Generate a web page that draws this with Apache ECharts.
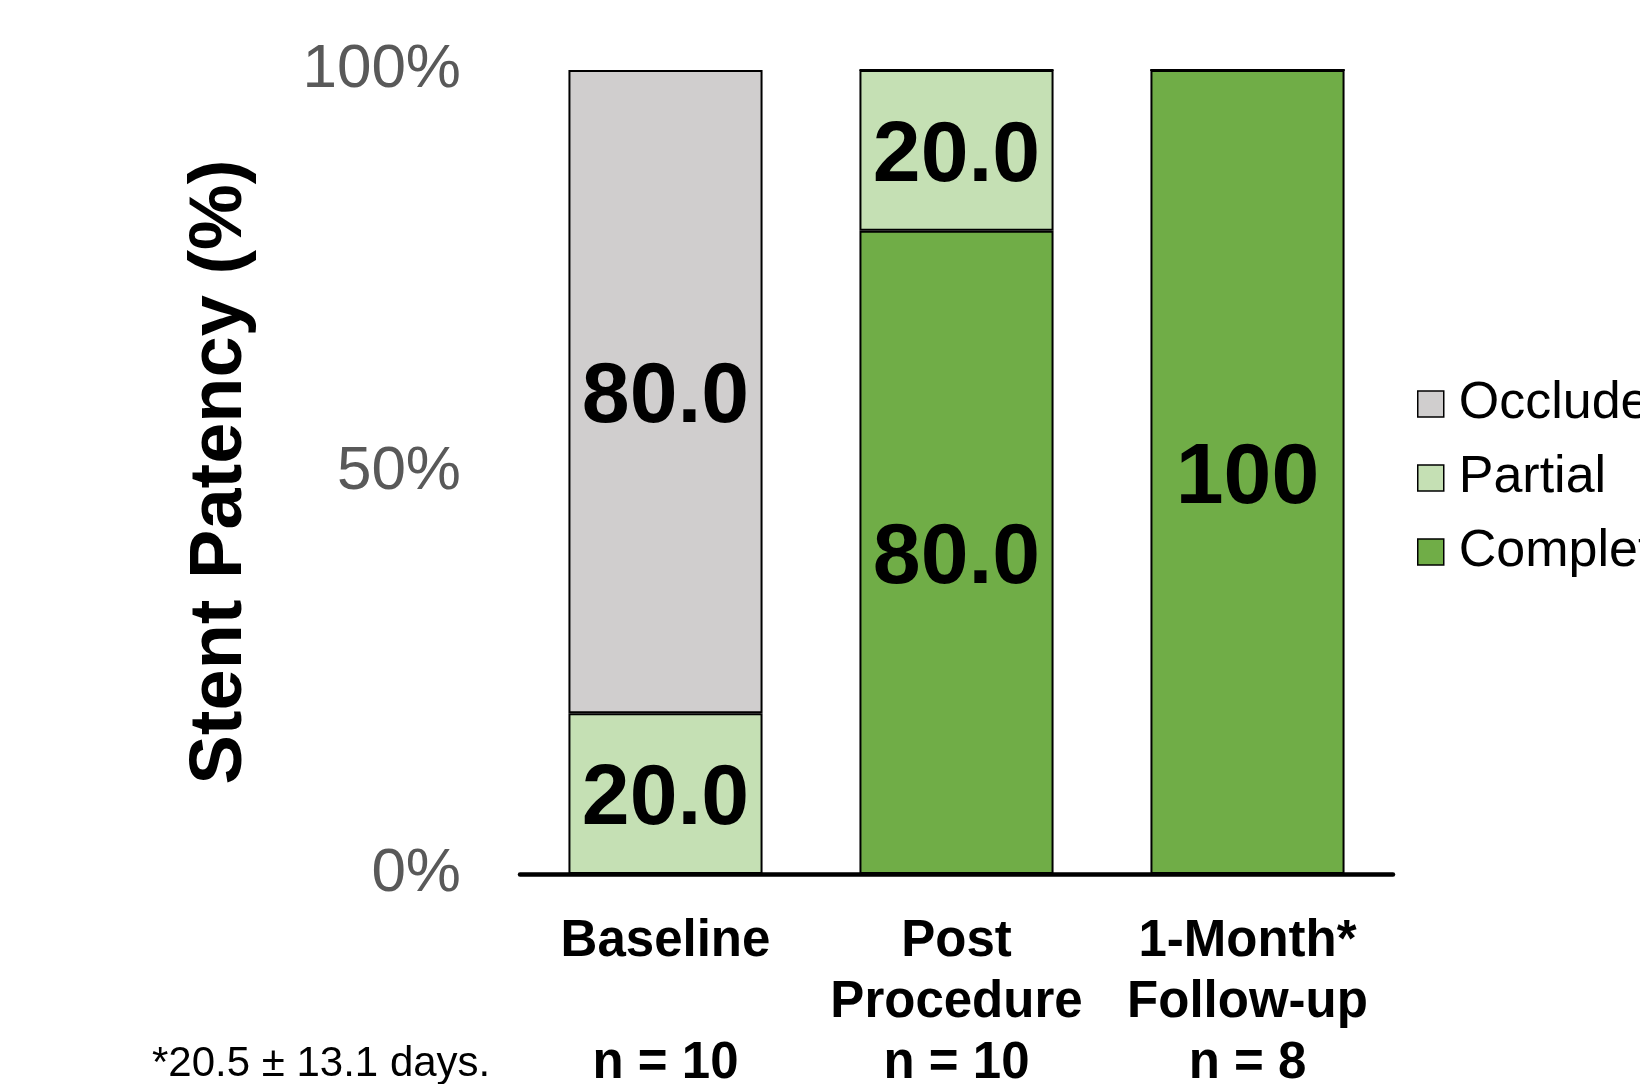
<!DOCTYPE html>
<html>
<head>
<meta charset="utf-8">
<title>Stent Patency</title>
<script src="https://cdn.jsdelivr.net/npm/echarts@6/dist/echarts.min.js"></script>
<style>
  html, body { margin: 0; padding: 0; background: #ffffff; }
  #chart { width: 1640px; height: 1084px; }
</style>
</head>
<body>
<div id="chart"></div>
<script>
// Time points and sample sizes
const categories = ['Baseline', 'Post\nProcedure', '1-Month*\nFollow-up'];
const sampleSizes = ['n = 10', 'n = 10', 'n = 8'];

// Patency outcome shares (%) per time point
const completeValues = [0, 80, 100];
const partialValues = [20, 20, 0];
const occludedValues = [80, 0, 0];

const yTicks = [0, 50, 100];
const footnote = '*20.5 \u00b1 13.1 days.';

const FONT = '"Liberation Sans", Arial, Helvetica, sans-serif';

// category label plus sample size shown on the third line
const axisLabels = categories.map((c, i) => {
  const lines = c.split('\n');
  while (lines.length < 2) lines.push(' ');
  return lines.concat(sampleSizes[i]).join('\n');
});

function valueLabel(p) {
  if (!p.value) return '';
  return p.value === 100 ? '100' : p.value.toFixed(1);
}

const seriesStyle = (name, color, data) => ({
  name: name,
  type: 'bar',
  stack: 'patency',
  barWidth: '66.7%',
  data: data,
  itemStyle: { color: color, borderColor: '#000000', borderWidth: 2 },
  label: {
    show: true,
    position: 'inside',
    offset: [0, 7],
    formatter: valueLabel,
    color: '#000000',
    fontFamily: FONT,
    fontWeight: 'bold',
    fontSize: 86
  },
  emphasis: { disabled: true }
});

const chart = echarts.init(document.getElementById('chart'), null, { renderer: 'canvas' });

chart.setOption({
  animation: false,
  backgroundColor: '#ffffff',
  grid: {
    left: 520, right: 247, top: 70, bottom: 210,
    containLabel: false,
    outerBoundsMode: 'none'
  },
  legend: {
    orient: 'vertical',
    left: 1412,
    top: 373,
    data: ['Occluded', 'Partial', 'Complete'],
    itemWidth: 26,
    itemHeight: 26,
    itemGap: 22,
    icon: 'rect',
    itemStyle: { borderColor: '#000000', borderWidth: 1.5 },
    textStyle: {
      fontFamily: FONT,
      fontSize: 52,
      color: '#000000',
      lineHeight: 52,
      padding: [0, 0, 0, 10]
    },
    selectedMode: false
  },
  xAxis: {
    type: 'category',
    data: axisLabels,
    axisLine: { show: true, lineStyle: { color: '#000000', width: 4.5 } },
    axisTick: { show: false },
    axisLabel: {
      interval: 0,
      margin: 37,
      fontFamily: FONT,
      fontWeight: 'bold',
      fontSize: 51,
      lineHeight: 61,
      color: '#000000'
    }
  },
  yAxis: {
    type: 'value',
    min: yTicks[0],
    max: yTicks[yTicks.length - 1],
    interval: yTicks[1] - yTicks[0],
    name: 'Stent Patency (%)',
    nameLocation: 'middle',
    nameGap: 262,
    nameTextStyle: {
      fontFamily: FONT,
      fontWeight: 'bold',
      fontSize: 74,
      color: '#000000'
    },
    axisLine: { show: false },
    axisTick: { show: false },
    splitLine: { show: false },
    axisLabel: {
      formatter: '{value}%',
      margin: 59,
      fontFamily: FONT,
      fontSize: 62,
      color: '#595959',
      padding: [16, 0, 0, 0]
    }
  },
  series: [
    seriesStyle('Complete', '#70AD47', completeValues),
    seriesStyle('Partial', '#C5E0B4', partialValues),
    seriesStyle('Occluded', '#D0CECE', occludedValues)
  ],
  graphic: [{
    type: 'text',
    left: 152,
    top: 1043,
    style: {
      text: footnote,
      fontFamily: FONT,
      fontSize: 42,
      fill: '#000000'
    }
  }]
});
</script>
</body>
</html>
